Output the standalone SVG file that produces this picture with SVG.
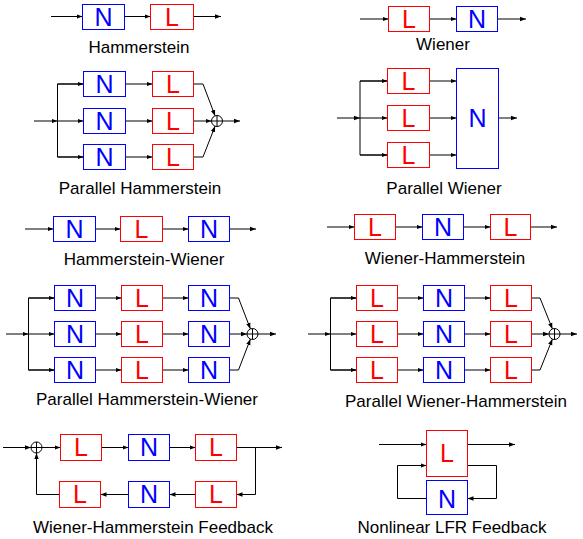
<svg xmlns="http://www.w3.org/2000/svg" width="583" height="539" viewBox="0 0 583 539">
<defs>
<marker id="ah" markerUnits="userSpaceOnUse" markerWidth="7" markerHeight="6" refX="6" refY="3" orient="auto">
<path d="M0,0.8 L6,3 L0,5.2 z" fill="#000"/>
</marker>
<style>
.n rect{fill:#fff;stroke:#00f;stroke-width:1}
.l rect{fill:#fff;stroke:#f00;stroke-width:1}
.n text{fill:#00f;font-family:"Liberation Sans",Arial,sans-serif;font-size:25px;text-anchor:middle}
.l text{fill:#f00;font-family:"Liberation Sans",Arial,sans-serif;font-size:25px;text-anchor:middle}
.cap{fill:#000;font-family:"Liberation Sans",Arial,sans-serif;font-size:17px;text-anchor:middle}
#connectors path,#connectors line{fill:none;stroke:#000;stroke-width:1}
#connectors .a{marker-end:url(#ah)}
#connectors circle{fill:none;stroke:#000;stroke-width:1}
</style>
</defs>
<rect width="583" height="539" fill="#fff"/>

<g id="connectors">
<!-- Hammerstein -->
<line class="a" x1="51" y1="16.5" x2="82.5" y2="16.5"/>
<line class="a" x1="124.5" y1="16.5" x2="150.5" y2="16.5"/>
<line class="a" x1="193.5" y1="16.5" x2="221" y2="16.5"/>
<!-- Wiener -->
<line class="a" x1="360" y1="19" x2="388.5" y2="19"/>
<line class="a" x1="429.5" y1="19" x2="456.5" y2="19"/>
<line class="a" x1="497.5" y1="19" x2="526" y2="19"/>
<!-- Parallel Hammerstein -->
<line class="a" x1="34" y1="121" x2="57.5" y2="121"/>
<path d="M83.5,84 H57.5 V157 H83.5"/>
<line class="a" x1="57.5" y1="84" x2="83.5" y2="84"/>
<line class="a" x1="57.5" y1="121" x2="83.5" y2="121"/>
<line class="a" x1="57.5" y1="157" x2="83.5" y2="157"/>
<line class="a" x1="125.5" y1="84" x2="152.5" y2="84"/>
<line class="a" x1="125.5" y1="121" x2="152.5" y2="121"/>
<line class="a" x1="125.5" y1="157" x2="152.5" y2="157"/>
<path class="a" d="M193.5,84 H203 L215.1,115.9"/>
<line class="a" x1="193.5" y1="121" x2="211.5" y2="121"/>
<path class="a" d="M193.5,157 H203 L215.1,126.1"/>
<circle cx="217" cy="121" r="5.5"/>
<path d="M211.5,121 H222.5 M217,115.5 V126.5"/>
<line class="a" x1="222.5" y1="121" x2="240" y2="121"/>
<!-- Parallel Wiener -->
<line class="a" x1="337" y1="118" x2="360" y2="118"/>
<path d="M387.5,81 H360 V155 H387.5"/>
<line class="a" x1="360" y1="81" x2="387.5" y2="81"/>
<line class="a" x1="360" y1="118" x2="387.5" y2="118"/>
<line class="a" x1="360" y1="155" x2="387.5" y2="155"/>
<line class="a" x1="429.5" y1="81" x2="456.5" y2="81"/>
<line class="a" x1="429.5" y1="118" x2="456.5" y2="118"/>
<line class="a" x1="429.5" y1="155" x2="456.5" y2="155"/>
<line class="a" x1="498.5" y1="118" x2="517" y2="118"/>
<!-- Hammerstein-Wiener -->
<line class="a" x1="25" y1="229" x2="53.5" y2="229"/>
<line class="a" x1="95.5" y1="229" x2="120.5" y2="229"/>
<line class="a" x1="162.5" y1="229" x2="188.5" y2="229"/>
<line class="a" x1="229.5" y1="229" x2="256" y2="229"/>
<!-- Parallel Hammerstein-Wiener -->
<line class="a" x1="6" y1="334" x2="28.5" y2="334"/>
<path d="M54.5,298 H28.5 V370 H54.5"/>
<line class="a" x1="28.5" y1="298" x2="54.5" y2="298"/>
<line class="a" x1="28.5" y1="334" x2="54.5" y2="334"/>
<line class="a" x1="28.5" y1="370" x2="54.5" y2="370"/>
<line class="a" x1="95.5" y1="298" x2="121.5" y2="298"/>
<line class="a" x1="95.5" y1="334" x2="121.5" y2="334"/>
<line class="a" x1="95.5" y1="370" x2="121.5" y2="370"/>
<line class="a" x1="162.5" y1="298" x2="188.5" y2="298"/>
<line class="a" x1="162.5" y1="334" x2="188.5" y2="334"/>
<line class="a" x1="162.5" y1="370" x2="188.5" y2="370"/>
<path class="a" d="M229.5,298 H238.5 L250.4,328.9"/>
<line class="a" x1="229.5" y1="334" x2="247" y2="334"/>
<path class="a" d="M229.5,370 H238.5 L250.4,339.1"/>
<circle cx="252.5" cy="334" r="5.5"/>
<path d="M247,334 H258 M252.5,328.5 V339.5"/>
<line class="a" x1="258" y1="334" x2="276" y2="334"/>
<!-- Wiener-Hammerstein -->
<line class="a" x1="327" y1="227" x2="354.5" y2="227"/>
<line class="a" x1="395.5" y1="227" x2="422.5" y2="227"/>
<line class="a" x1="463.5" y1="227" x2="490.5" y2="227"/>
<line class="a" x1="530.5" y1="227" x2="557" y2="227"/>
<!-- Parallel Wiener-Hammerstein -->
<line class="a" x1="308" y1="334" x2="330.5" y2="334"/>
<path d="M356.5,298 H330.5 V370 H356.5"/>
<line class="a" x1="330.5" y1="298" x2="356.5" y2="298"/>
<line class="a" x1="330.5" y1="334" x2="356.5" y2="334"/>
<line class="a" x1="330.5" y1="370" x2="356.5" y2="370"/>
<line class="a" x1="397.5" y1="298" x2="423.5" y2="298"/>
<line class="a" x1="397.5" y1="334" x2="423.5" y2="334"/>
<line class="a" x1="397.5" y1="370" x2="423.5" y2="370"/>
<line class="a" x1="464.5" y1="298" x2="490.5" y2="298"/>
<line class="a" x1="464.5" y1="334" x2="490.5" y2="334"/>
<line class="a" x1="464.5" y1="370" x2="490.5" y2="370"/>
<path class="a" d="M531.5,298 H540 L552.4,328.9"/>
<line class="a" x1="531.5" y1="334" x2="549" y2="334"/>
<path class="a" d="M531.5,370 H540 L552.4,339.1"/>
<circle cx="554.5" cy="334" r="5.5"/>
<path d="M549,334 H560 M554.5,328.5 V339.5"/>
<line class="a" x1="560" y1="334" x2="577" y2="334"/>
<!-- Wiener-Hammerstein Feedback -->
<line class="a" x1="3" y1="447.5" x2="31" y2="447.5"/>
<circle cx="36.5" cy="447.5" r="5.5"/>
<path d="M31,447.5 H42 M36.5,442 V453"/>
<line class="a" x1="42" y1="447.5" x2="60.5" y2="447.5"/>
<line class="a" x1="101.5" y1="447.5" x2="128.5" y2="447.5"/>
<line class="a" x1="169.5" y1="447.5" x2="195.5" y2="447.5"/>
<line class="a" x1="236.5" y1="447.5" x2="282" y2="447.5"/>
<path class="a" d="M255.5,447.5 V494.5 H236.5"/>
<line class="a" x1="195.5" y1="494.5" x2="169.5" y2="494.5"/>
<line class="a" x1="128.5" y1="494.5" x2="100.5" y2="494.5"/>
<path class="a" d="M59.5,494.5 H36.5 V453"/>
<!-- Nonlinear LFR Feedback -->
<line class="a" x1="379" y1="444.5" x2="426.5" y2="444.5"/>
<line class="a" x1="467.5" y1="444.5" x2="515" y2="444.5"/>
<path class="a" d="M467.5,465.5 H496.5 V498.5 H467.5"/>
<path class="a" d="M426.5,498.5 H397.5 V465.5 H426.5"/>
</g>

<!-- Hammerstein -->
<g id="h-n" class="n"><rect x="82.5" y="4.5" width="42" height="25"/><text x="103.5" y="25.9">N</text></g>
<g id="h-l" class="l"><rect x="150.5" y="4.5" width="43" height="25"/><text x="172" y="25.9">L</text></g>
<text class="cap" x="139" y="53">Hammerstein</text>

<!-- Wiener -->
<g id="w-l" class="l"><rect x="388.5" y="6.5" width="41" height="25"/><text x="409" y="27.9">L</text></g>
<g id="w-n" class="n"><rect x="456.5" y="6.5" width="41" height="25"/><text x="477" y="27.9">N</text></g>
<text class="cap" x="443" y="50">Wiener</text>

<!-- Parallel Hammerstein -->
<g id="ph-n1" class="n"><rect x="83.5" y="71.5" width="42" height="25"/><text x="104.5" y="92.9">N</text></g>
<g id="ph-n2" class="n"><rect x="83.5" y="108.5" width="42" height="25"/><text x="104.5" y="129.9">N</text></g>
<g id="ph-n3" class="n"><rect x="83.5" y="144.5" width="42" height="25"/><text x="104.5" y="165.9">N</text></g>
<g id="ph-l1" class="l"><rect x="152.5" y="71.5" width="41" height="25"/><text x="173" y="92.9">L</text></g>
<g id="ph-l2" class="l"><rect x="152.5" y="108.5" width="41" height="25"/><text x="173" y="129.9">L</text></g>
<g id="ph-l3" class="l"><rect x="152.5" y="144.5" width="41" height="25"/><text x="173" y="165.9">L</text></g>
<text class="cap" x="140" y="194">Parallel Hammerstein</text>

<!-- Parallel Wiener -->
<g id="pw-l1" class="l"><rect x="387.5" y="68.5" width="42" height="25"/><text x="408.5" y="89.9">L</text></g>
<g id="pw-l2" class="l"><rect x="387.5" y="105.5" width="42" height="25"/><text x="408.5" y="126.9">L</text></g>
<g id="pw-l3" class="l"><rect x="387.5" y="142.5" width="42" height="25"/><text x="408.5" y="163.9">L</text></g>
<g id="pw-n" class="n"><rect x="456.5" y="68.5" width="42" height="100"/><text x="477.5" y="127.4">N</text></g>
<text class="cap" x="444" y="194">Parallel Wiener</text>

<!-- Hammerstein-Wiener -->
<g id="hw-n1" class="n"><rect x="53.5" y="216.5" width="42" height="25"/><text x="74.5" y="237.9">N</text></g>
<g id="hw-l" class="l"><rect x="120.5" y="216.5" width="42" height="25"/><text x="141.5" y="237.9">L</text></g>
<g id="hw-n2" class="n"><rect x="188.5" y="216.5" width="41" height="25"/><text x="209" y="237.9">N</text></g>
<text class="cap" x="144" y="265">Hammerstein-Wiener</text>

<!-- Parallel Hammerstein-Wiener -->
<g id="phw-n11" class="n"><rect x="54.5" y="285.5" width="41" height="25"/><text x="75" y="306.9">N</text></g>
<g id="phw-n21" class="n"><rect x="54.5" y="321.5" width="41" height="25"/><text x="75" y="342.9">N</text></g>
<g id="phw-n31" class="n"><rect x="54.5" y="357.5" width="41" height="25"/><text x="75" y="378.9">N</text></g>
<g id="phw-l1" class="l"><rect x="121.5" y="285.5" width="41" height="25"/><text x="142" y="306.9">L</text></g>
<g id="phw-l2" class="l"><rect x="121.5" y="321.5" width="41" height="25"/><text x="142" y="342.9">L</text></g>
<g id="phw-l3" class="l"><rect x="121.5" y="357.5" width="41" height="25"/><text x="142" y="378.9">L</text></g>
<g id="phw-n12" class="n"><rect x="188.5" y="285.5" width="41" height="25"/><text x="209" y="306.9">N</text></g>
<g id="phw-n22" class="n"><rect x="188.5" y="321.5" width="41" height="25"/><text x="209" y="342.9">N</text></g>
<g id="phw-n32" class="n"><rect x="188.5" y="357.5" width="41" height="25"/><text x="209" y="378.9">N</text></g>
<text class="cap" x="147" y="405">Parallel Hammerstein-Wiener</text>

<!-- Wiener-Hammerstein -->
<g id="wh-l1" class="l"><rect x="354.5" y="214.5" width="41" height="25"/><text x="375" y="235.9">L</text></g>
<g id="wh-n" class="n"><rect x="422.5" y="214.5" width="41" height="25"/><text x="443" y="235.9">N</text></g>
<g id="wh-l2" class="l"><rect x="490.5" y="214.5" width="40" height="25"/><text x="510.5" y="235.9">L</text></g>
<text class="cap" x="445" y="264">Wiener-Hammerstein</text>

<!-- Parallel Wiener-Hammerstein -->
<g id="pwh-l11" class="l"><rect x="356.5" y="285.5" width="41" height="25"/><text x="377" y="306.9">L</text></g>
<g id="pwh-l21" class="l"><rect x="356.5" y="321.5" width="41" height="25"/><text x="377" y="342.9">L</text></g>
<g id="pwh-l31" class="l"><rect x="356.5" y="357.5" width="41" height="25"/><text x="377" y="378.9">L</text></g>
<g id="pwh-n1" class="n"><rect x="423.5" y="285.5" width="41" height="25"/><text x="444" y="306.9">N</text></g>
<g id="pwh-n2" class="n"><rect x="423.5" y="321.5" width="41" height="25"/><text x="444" y="342.9">N</text></g>
<g id="pwh-n3" class="n"><rect x="423.5" y="357.5" width="41" height="25"/><text x="444" y="378.9">N</text></g>
<g id="pwh-l12" class="l"><rect x="490.5" y="285.5" width="41" height="25"/><text x="511" y="306.9">L</text></g>
<g id="pwh-l22" class="l"><rect x="490.5" y="321.5" width="41" height="25"/><text x="511" y="342.9">L</text></g>
<g id="pwh-l32" class="l"><rect x="490.5" y="357.5" width="41" height="25"/><text x="511" y="378.9">L</text></g>
<text class="cap" x="456" y="407">Parallel Wiener-Hammerstein</text>

<!-- Wiener-Hammerstein Feedback -->
<g id="whf-l1" class="l"><rect x="60.5" y="434.5" width="41" height="26"/><text x="81" y="456.4">L</text></g>
<g id="whf-n1" class="n"><rect x="128.5" y="434.5" width="41" height="26"/><text x="149" y="456.4">N</text></g>
<g id="whf-l2" class="l"><rect x="195.5" y="434.5" width="41" height="26"/><text x="216" y="456.4">L</text></g>
<g id="whf-l3" class="l"><rect x="195.5" y="481.5" width="41" height="26"/><text x="216" y="503.4">L</text></g>
<g id="whf-n2" class="n"><rect x="128.5" y="481.5" width="41" height="26"/><text x="149" y="503.4">N</text></g>
<g id="whf-l4" class="l"><rect x="59.5" y="481.5" width="41" height="26"/><text x="80" y="503.4">L</text></g>
<text class="cap" x="153" y="533">Wiener-Hammerstein Feedback</text>

<!-- Nonlinear LFR Feedback -->
<g id="lfr-l" class="l"><rect x="426.5" y="430.5" width="41" height="46"/><text x="447" y="461.5">L</text></g>
<g id="lfr-n" class="n"><rect x="426.5" y="480.5" width="41" height="34"/><text x="447" y="507.5">N</text></g>
<text class="cap" x="452" y="533">Nonlinear LFR Feedback</text>
</svg>
